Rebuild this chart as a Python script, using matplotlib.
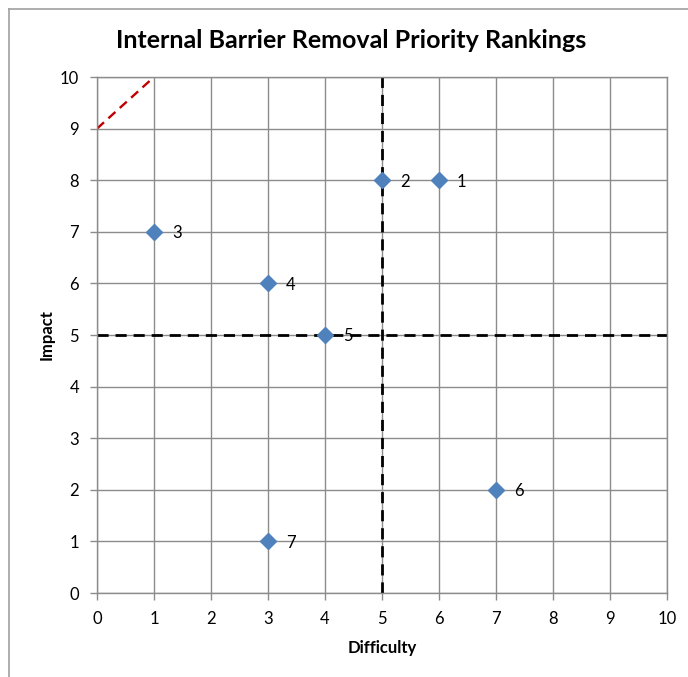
import matplotlib
matplotlib.use("Agg")
import matplotlib.pyplot as plt
from matplotlib.lines import Line2D

plt.rcParams['font.family'] = ['Lato', 'DejaVu Sans']

# barrier rankings on the difficulty / impact grid
rank_labels = ['1', '2', '3', '4', '5', '6', '7']
difficulty = [6, 5, 1, 3, 4, 7, 3]
impact = [8, 8, 7, 6, 5, 2, 1]

# quadrant split and the reference diagonal
split_value = 5
diag_x = [0, 1]
diag_y = [9, 10]

grid_c = '#8c8c8c'

fig = plt.figure(figsize=(6.88, 6.77), dpi=100)
ax = fig.add_axes([97/688, 1 - 593/677, 570/688, 516/677])

ax.set_xlim(0, 10)
ax.set_ylim(0, 10)
ax.set_xticks(range(0, 11))
ax.set_yticks(range(0, 11))
ax.grid(True, color=grid_c, linewidth=1)
ax.set_axisbelow(True)
for s in ax.spines.values():
    s.set_color(grid_c)
    s.set_linewidth(1)
ax.tick_params(colors=grid_c, labelcolor='black', labelsize=12, length=5, width=1)
ax.tick_params(axis='x', pad=8)
ax.tick_params(axis='y', pad=8)

ax.axvline(split_value, color='black', linestyle=(0, (4, 2.5)), linewidth=2, zorder=2)
ax.axhline(split_value, color='black', linestyle=(0, (4, 2.5)), linewidth=2, zorder=2)
ax.plot(diag_x, diag_y, color='#c00000', linestyle=(0, (4, 2.5)), linewidth=1.7, zorder=2)

ax.plot(difficulty, impact, linestyle='none', marker='D', markersize=8,
        color='#4f81bd', zorder=3, clip_on=False)
for lab, x, y in zip(rank_labels, difficulty, impact):
    ax.annotate(lab, (x, y), xytext=(13, -1), textcoords='offset points',
                ha='left', va='center', fontsize=12, zorder=4)

ax.set_xlabel('Difficulty', fontsize=12, fontweight='bold', labelpad=9)
ax.set_ylabel('Impact', fontsize=12, fontweight='bold', labelpad=4)
fig.text(351/688, 1 - 40/677, 'Internal Barrier Removal Priority Rankings',
         ha='center', va='center', fontsize=18, fontweight='bold')

# outer chart frame
fig.add_artist(Line2D([8.5/688, 8.5/688], [0, 1 - 8.5/677], color='#a0a0a0', linewidth=1.2,
                      transform=fig.transFigure))
fig.add_artist(Line2D([8.5/688, 1], [1 - 8.5/677, 1 - 8.5/677], color='#a0a0a0', linewidth=1.2,
                      transform=fig.transFigure))

fig.savefig('out.png', dpi=100)
